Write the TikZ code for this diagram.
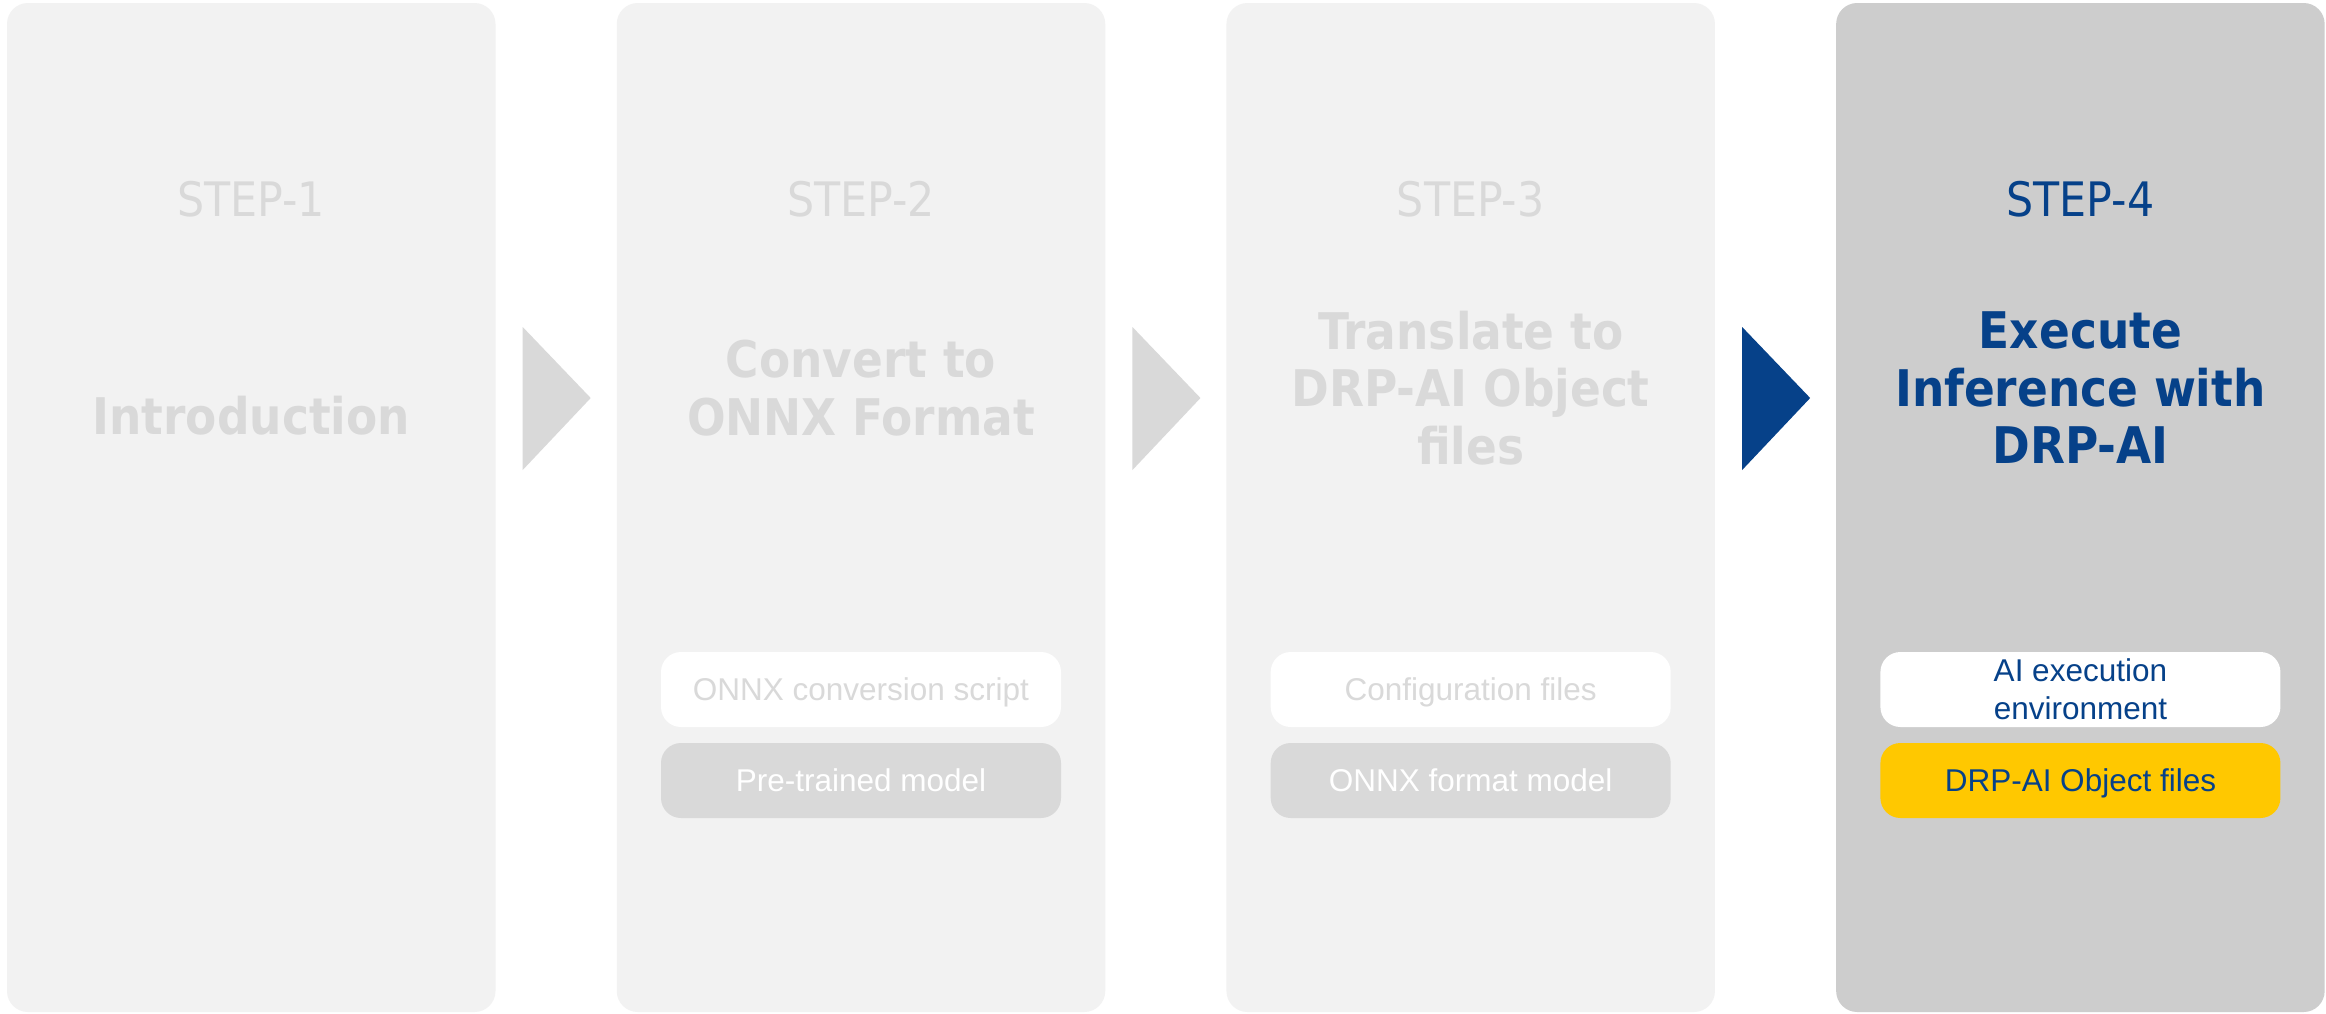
\documentclass[tikz,border=0pt]{standalone}
\usepackage{fontspec}
\usepackage{xcolor}
\usepackage{tikz}
\usetikzlibrary{calc}
\newfontfamily\dejacond{DejaVu Sans Condensed}
\newfontfamily\arialfont{Liberation Sans}
\definecolor{panelgray}{RGB}{242,242,242}
\definecolor{activegray}{RGB}{205,205,205}
\definecolor{fadegray}{RGB}{217,217,217}
\definecolor{stepblue}{RGB}{6,65,137}
\definecolor{fileyellow}{RGB}{255,200,0}
\newcommand{\titlefont}{\dejacond\bfseries\fontsize{50.5pt}{57.5pt}\selectfont}
\newcommand{\stepfont}{\dejacond\fontsize{47.5pt}{55pt}\selectfont}
\newcommand{\itemfont}{\arialfont\fontsize{31.5pt}{38pt}\selectfont}
\tikzstyle{panel} = [rectangle, rounded corners=21pt, minimum width=488.5pt, minimum height=1009pt, inner sep=0pt, fill=panelgray]
\tikzstyle{steplabel} = [inner sep=0pt, font=\stepfont, text=fadegray]
\tikzstyle{title} = [inner sep=0pt, align=center, font=\titlefont, text=fadegray]
\tikzstyle{item} = [rectangle, rounded corners=20pt, minimum width=400pt, minimum height=75pt, inner sep=0pt, font=\itemfont]
\tikzstyle{oneline} = [text height=22.6pt, text depth=0pt]

\begin{document}
\begin{tikzpicture}[x=1pt, y=-1pt]
    % Canvas
    \fill[white] (0,0) rectangle (2326,1013);

    % Step panels
    \node[panel] (p1) at (251.25, 507.5) {};
    \node[panel] (p2) at (861, 507.5) {};
    \node[panel] (p3) at (1470.7, 507.5) {};
    \node[panel, fill=activegray] (p4) at (2080.4, 507.5) {};

    % Chevrons between panels
    \foreach \a/\c in {p1/fadegray, p2/fadegray, p3/stepblue}
        \fill[\c] ($(\a.east)+(27,-180.5)$) -- ($(\a.east)+(95,-109.5)$) -- ($(\a.east)+(27,-37.5)$) -- cycle;

    % Step 1
    \node[steplabel] (s1) at (251.25, 199) {STEP-1};
    \node[title] (t1) at (251.25, 416) {Introduction};

    % Step 2
    \node[steplabel] (s2) at (861, 199) {STEP-2};
    \node[title] (t2) at (861, 388) {Convert to\\ONNX Format};
    \node[item, oneline, fill=white, text=fadegray] (b2a) at (861, 689.5) {ONNX conversion script};
    \node[item, oneline, fill=fadegray, text=white] (b2b) at (861, 780.5) {Pre-trained model};

    % Step 3
    \node[steplabel] (s3) at (1470.7, 199) {STEP-3};
    \node[title] (t3) at (1470.7, 388) {Translate to\\DRP-AI Object\\files};
    \node[item, oneline, fill=white, text=fadegray] (b3a) at (1470.7, 689.5) {Configuration files};
    \node[item, oneline, fill=fadegray, text=white] (b3b) at (1470.7, 780.5) {ONNX format model};

    % Step 4 (active)
    \node[steplabel, text=stepblue] (s4) at (2080.4, 199) {STEP-4};
    \node[title, text=stepblue] (t4) at (2080.4, 388) {Execute\\Inference with\\DRP-AI};
    \node[item, fill=white, text=stepblue, align=center] (b4a) at (2080.4, 689.5) {AI execution\\environment};
    \node[item, oneline, fill=fileyellow, text=stepblue] (b4b) at (2080.4, 780.5) {DRP-AI Object files};
\end{tikzpicture}
\end{document}
